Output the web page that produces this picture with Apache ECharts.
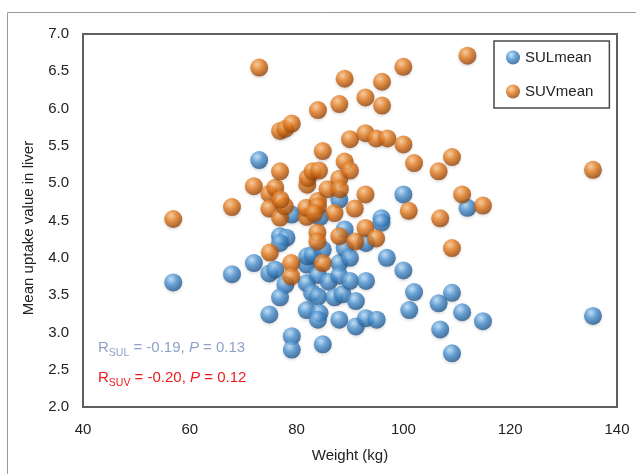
<!DOCTYPE html>
<html>
<head>
<meta charset="utf-8">
<script src="https://cdn.jsdelivr.net/npm/echarts@6/dist/echarts.min.js"></script>
<style>
html,body{margin:0;padding:0;background:#fff;}
#chart{width:636px;height:474px;}
</style>
</head>
<body>
<div id="chart"></div>
<script>
// ---- data ----
const weightSUL = [56.9, 67.9, 72.0, 73.0, 74.9, 74.9, 76.0, 76.9, 78.1, 76.9, 77.9, 76.9, 79.1, 79.1, 79.1, 81.9, 81.9, 81.9, 82.0, 83.0, 82.9, 84.0, 84.0, 84.3, 84.0, 84.9, 84.9, 86.0, 87.1, 88.6, 88.0, 88.0, 88.0, 89.0, 89.0, 90.0, 90.0, 91.1, 91.1, 93.0, 93.0, 93.0, 95.0, 95.9, 95.9, 96.9, 100.0, 100.0, 101.1, 102.0, 106.6, 106.9, 109.1, 109.1, 111.0, 112.0, 114.9, 135.5, 88.0, 84.4];
const valueSUL  = [3.67, 3.78, 3.93, 5.31, 3.79, 3.24, 3.84, 4.29, 4.27, 4.20, 3.64, 3.47, 4.58, 2.95, 2.77, 3.30, 3.66, 3.91, 4.02, 4.04, 3.53, 3.77, 3.48, 3.26, 3.17, 2.84, 4.11, 3.68, 3.47, 3.51, 3.17, 3.93, 3.76, 4.38, 4.13, 4.00, 3.69, 3.42, 3.08, 3.69, 4.20, 3.19, 3.17, 4.53, 4.47, 4.00, 4.85, 3.83, 3.30, 3.54, 3.39, 3.04, 3.53, 2.72, 3.27, 4.67, 3.15, 3.22, 4.78, 4.55];
const weightSUV = [56.9, 67.9, 72.0, 73.0, 74.9, 74.9, 75.0, 76.0, 76.9, 76.9, 77.9, 79.1, 76.9, 77.8, 77.0, 79.0, 79.0, 82.0, 82.1, 81.9, 81.8, 83.0, 84.2, 84.0, 84.0, 84.0, 83.9, 83.9, 84.9, 84.9, 85.8, 87.1, 88.0, 88.0, 88.1, 88.0, 89.0, 89.0, 90.0, 90.0, 90.9, 91.0, 92.9, 92.9, 92.9, 92.9, 94.9, 94.9, 96.0, 96.0, 97.0, 100.0, 100.0, 101.0, 102.0, 106.6, 106.9, 109.1, 109.1, 111.0, 112.0, 114.9, 135.5, 83.3];
const valueSUV  = [4.52, 4.68, 4.96, 6.55, 4.86, 4.66, 4.07, 4.94, 5.16, 5.70, 5.73, 5.80, 4.54, 4.69, 4.78, 3.93, 3.75, 4.98, 5.07, 4.55, 4.67, 5.16, 5.17, 5.98, 4.76, 4.69, 4.34, 4.22, 5.43, 3.93, 4.92, 4.60, 6.06, 5.06, 4.92, 4.29, 6.40, 5.29, 5.59, 5.17, 4.66, 4.22, 6.15, 5.67, 4.85, 4.40, 5.60, 4.26, 6.36, 6.04, 5.60, 6.56, 5.52, 4.63, 5.27, 5.16, 4.53, 5.35, 4.13, 4.85, 6.71, 4.70, 5.18, 4.60];
const seriesNames = ['SULmean', 'SUVmean'];
const xAxisTitle = 'Weight (kg)';
const yAxisTitle = 'Mean uptake value in liver';
const statSUL = {sub: 'SUL', r: '-0.19', p: '0.13'};
const statSUV = {sub: 'SUV', r: '-0.20', p: '0.12'};

const toPairs = (xs, ys) => xs.map((x, i) => [x, ys[i]]);

function sphere(light, mid, dark) {
  return {
    type: 'radial', x: 0.38, y: 0.32, r: 0.72,
    colorStops: [
      {offset: 0, color: light},
      {offset: 0.45, color: mid},
      {offset: 1, color: dark}
    ]
  };
}
const blueBall = sphere('#b9def8', '#4b92d2', '#1d5287');
const orangeBall = sphere('#fbc890', '#e57a1d', '#8f3f06');

const FONT = '"Liberation Sans", Arial, sans-serif';

function statText(s) {
  return '{r|R}{s|' + s.sub + '}{t| = ' + s.r + ', }{i|P}{t| = ' + s.p + '}';
}
function richFor(color) {
  return {
    r: {fontSize: 15, fontFamily: FONT, color: color, lineHeight: 22},
    t: {fontSize: 15, fontFamily: FONT, color: color, lineHeight: 22},
    i: {fontSize: 15, fontFamily: FONT, color: color, fontStyle: 'italic', lineHeight: 22},
    s: {fontSize: 10.5, fontFamily: FONT, color: color, lineHeight: 12, verticalAlign: 'bottom'}
  };
}

const chart = echarts.init(document.getElementById('chart'), null, {renderer: 'canvas'});
chart.setOption({
  backgroundColor: '#ffffff',
  animation: false,
  textStyle: {fontFamily: FONT},
  grid: {
    left: 83, right: 19, top: 34, bottom: 67,
    show: true, borderColor: '#5f5f5f', borderWidth: 2, backgroundColor: 'transparent'
  },
  legend: {
    orient: 'vertical',
    left: 494, top: 41,
    padding: [9, 16, 9, 12],
    itemGap: 19,
    itemWidth: 14, itemHeight: 14,
    borderColor: '#4a4a4a', borderWidth: 1.5,
    backgroundColor: '#ffffff',
    icon: 'circle',
    textStyle: {fontSize: 15, color: '#222', fontFamily: FONT},
    data: seriesNames
  },
  xAxis: {
    type: 'value', min: 40, max: 140, interval: 20,
    axisLine: {show: false}, axisTick: {show: false}, splitLine: {show: false},
    axisLabel: {fontSize: 15, color: '#222', margin: 15, fontFamily: FONT},
    name: xAxisTitle, nameLocation: 'middle', nameGap: 41,
    nameTextStyle: {fontSize: 15, color: '#222', fontFamily: FONT}
  },
  yAxis: {
    type: 'value', min: 2, max: 7, interval: 0.5,
    axisLine: {show: false}, axisTick: {show: false}, splitLine: {show: false},
    axisLabel: {fontSize: 15, color: '#222', margin: 14, fontFamily: FONT,
      formatter: v => v.toFixed(1)}
  },
  graphic: [
    {type: 'line', shape: {x1: 7.5, y1: 12.5, x2: 636, y2: 12.5}, style: {stroke: '#9a9a9a', lineWidth: 1}, silent: true},
    {type: 'line', shape: {x1: 7.5, y1: 12.5, x2: 7.5, y2: 474}, style: {stroke: '#9a9a9a', lineWidth: 1}, silent: true},
    {type: 'text', x: 29, y: 228, rotation: Math.PI / 2,
      style: {text: yAxisTitle, fontSize: 15, fill: '#222', fontFamily: FONT, align: 'center', verticalAlign: 'middle'}},
    {type: 'text', left: 98, top: 340, z: 100,
      style: {text: statText(statSUL), rich: richFor('#8fa2c7'), fill: '#8fa2c7'}},
    {type: 'text', left: 98, top: 370, z: 100,
      style: {text: statText(statSUV), rich: richFor('#ee1c1c'), fill: '#ee1c1c'}}
  ],
  series: [
    {
      name: seriesNames[0], type: 'scatter', symbol: 'circle', symbolSize: 18,
      data: toPairs(weightSUL, valueSUL),
      itemStyle: {color: blueBall, shadowColor: 'rgba(0,0,0,0.18)', shadowBlur: 3, shadowOffsetY: 1.5}
    },
    {
      name: seriesNames[1], type: 'scatter', symbol: 'circle', symbolSize: 18,
      data: toPairs(weightSUV, valueSUV),
      itemStyle: {color: orangeBall, shadowColor: 'rgba(0,0,0,0.18)', shadowBlur: 3, shadowOffsetY: 1.5}
    }
  ]
});
</script>
</body>
</html>
